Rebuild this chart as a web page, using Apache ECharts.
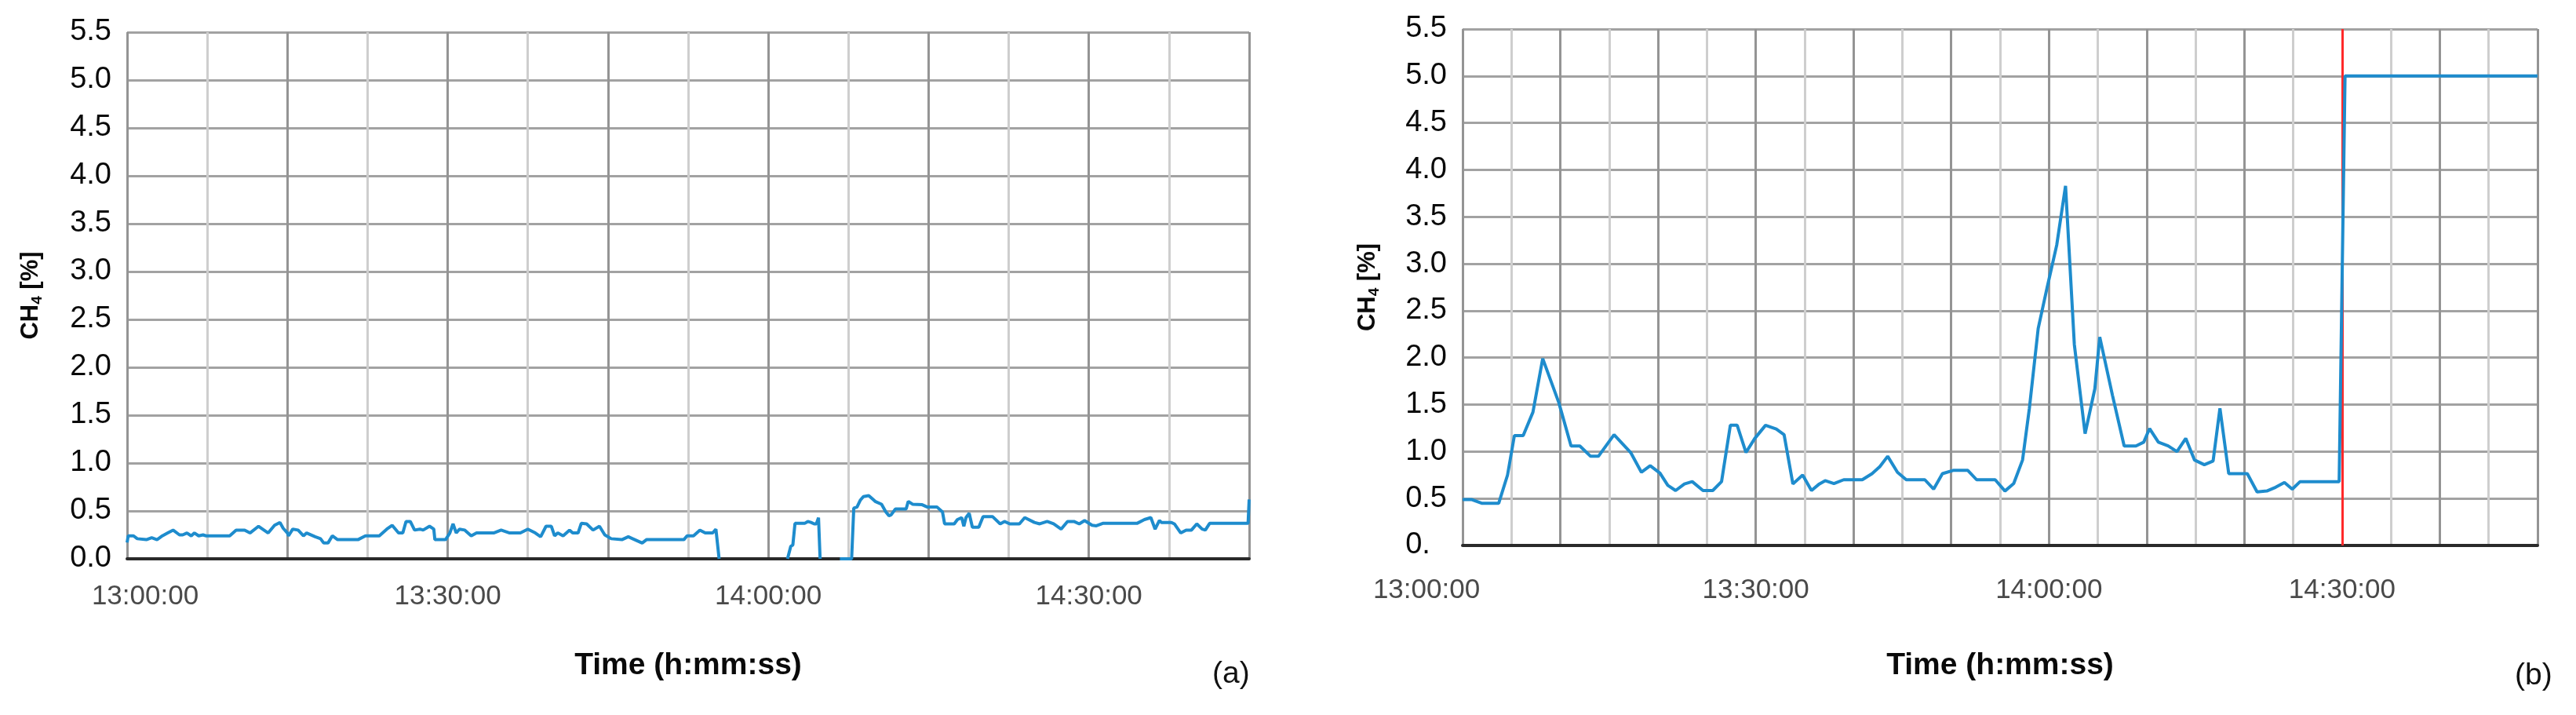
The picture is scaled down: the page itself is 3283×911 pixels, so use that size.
<!DOCTYPE html>
<html>
<head>
<meta charset="utf-8">
<script src="https://cdn.jsdelivr.net/npm/echarts@6/dist/echarts.min.js"></script>
<style>
html,body{margin:0;padding:0;background:#fff;}
#c{width:3283px;height:911px;}
</style>
</head>
<body>
<div id="c"></div>
<script>
// ---- Data (time in minutes after 13:00:00, CH4 in %) ----
// Panel (a)
const timeA = [0,0.1,0.6,0.95,1.8,2.3,2.8,3.3,3.8,4.3,4.9,5.2,5.6,6.0,6.3,6.7,7.1,7.4,9.6,10.2,11.0,11.5,12.3,13.2,13.8,14.3,14.6,15.0,15.1,15.5,16.0,16.5,16.8,17.6,18.1,18.4,18.8,19.2,19.7,21.6,22.3,23.6,24.3,24.8,25.4,25.8,26.1,26.5,26.9,27.4,27.7,28.3,28.7,28.8,29.8,30.2,30.5,30.8,31.1,31.6,32.2,32.7,34.3,35.0,35.8,36.8,37.5,38.2,38.7,39.2,39.7,40.0,40.3,40.8,41.4,41.7,42.2,42.5,43.0,43.6,44.2,44.7,45.3,46.3,46.9,47.3,48.2,48.6,52.1,52.4,53.0,53.6,54.1,54.8,55.1,55.4,58.5,61.8,62.1,62.3,62.5,63.4,63.7,64.0,64.3,64.5,64.7,64.85,65.8,66.7,67.8,68.0,68.3,68.6,68.9,69.4,69.8,70.0,70.6,71.0,71.3,71.5,71.9,72.9,73.1,73.5,74.4,74.9,75.8,76.3,76.5,77.4,77.7,78.1,78.3,78.5,78.8,79.1,79.7,80.1,81.0,81.7,82.1,82.6,83.5,84.0,84.9,85.4,86.1,86.7,87.4,88.0,88.6,89.1,89.6,90.3,90.7,91.3,94.5,95.2,95.8,96.2,96.6,96.8,97.7,98.0,98.6,99.1,99.6,100.1,100.6,100.9,101.3,104.9,105];
const ch4A = [0.17,0.24,0.24,0.21,0.20,0.22,0.20,0.24,0.27,0.30,0.25,0.25,0.27,0.24,0.27,0.24,0.25,0.24,0.24,0.30,0.30,0.27,0.34,0.27,0.35,0.38,0.32,0.27,0.24,0.31,0.30,0.24,0.27,0.23,0.21,0.165,0.165,0.24,0.20,0.20,0.24,0.24,0.31,0.35,0.27,0.27,0.39,0.39,0.30,0.31,0.30,0.34,0.31,0.20,0.20,0.27,0.365,0.27,0.31,0.30,0.24,0.27,0.27,0.30,0.27,0.27,0.31,0.27,0.23,0.34,0.34,0.24,0.27,0.24,0.30,0.27,0.27,0.37,0.365,0.30,0.34,0.25,0.21,0.20,0.23,0.21,0.165,0.20,0.20,0.24,0.24,0.30,0.27,0.27,0.31,0,null,0,0.13,0.145,0.37,0.37,0.39,0.38,0.365,0.365,0.43,0,null,0,0,0.53,0.54,0.61,0.65,0.66,0.62,0.60,0.57,0.49,0.45,0.46,0.52,0.52,0.60,0.57,0.565,0.54,0.54,0.49,0.365,0.365,0.41,0.43,0.34,0.43,0.475,0.33,0.33,0.44,0.44,0.365,0.39,0.365,0.365,0.43,0.38,0.365,0.39,0.365,0.31,0.39,0.39,0.365,0.40,0.35,0.345,0.37,0.37,0.41,0.43,0.31,0.40,0.38,0.38,0.365,0.27,0.30,0.30,0.365,0.31,0.30,0.37,0.37,0.62];
// Panel (b)
const timeB = [0,0.9,1.95,3.7,4.6,5.3,6.2,7.2,8.2,9.85,11.1,12.0,13.1,13.9,15.5,17.2,18.3,19.2,20.2,21.0,21.8,22.7,23.5,24.6,25.6,26.5,27.4,28.1,29.0,29.9,31.0,32.1,32.9,33.8,34.8,35.7,36.5,37.1,38.0,39.0,40.9,41.9,42.7,43.5,44.5,45.4,47.3,48.2,49.1,50.2,51.7,52.6,54.5,55.5,56.4,57.3,58.0,58.9,59.8,60.8,61.7,62.6,63.7,64.7,65.2,66.5,67.7,68.9,69.7,70.3,71.2,72.2,73.1,74.0,74.9,75.9,76.8,77.5,78.4,80.3,81.3,82.3,83.2,84.1,84.9,85.7,89.7,90.3,110];
const ch4B = [0.49,0.49,0.45,0.45,0.75,1.17,1.17,1.42,1.99,1.52,1.06,1.06,0.95,0.95,1.18,0.99,0.78,0.85,0.77,0.64,0.585,0.655,0.68,0.585,0.585,0.68,1.28,1.28,0.99,1.14,1.28,1.24,1.18,0.655,0.75,0.585,0.655,0.69,0.66,0.70,0.70,0.765,0.84,0.95,0.78,0.70,0.70,0.60,0.765,0.80,0.80,0.70,0.70,0.58,0.66,0.91,1.46,2.31,2.74,3.20,3.83,2.14,1.19,1.67,2.22,1.60,1.06,1.06,1.10,1.245,1.10,1.06,1.00,1.14,0.91,0.86,0.90,1.46,0.765,0.765,0.57,0.58,0.62,0.67,0.60,0.68,0.68,5.0,5.0];
const alarmTimeB = 90; // 14:30:00
const xTickLabels = ['13:00:00','13:30:00','14:00:00','14:30:00'];
const yTicks = [0,0.5,1,1.5,2,2.5,3,3.5,4,4.5,5,5.5];

const FONT = '"Liberation Sans", Arial, Helvetica, sans-serif';
const BLUE = '#1e8ccd';

function pairs(t, v){ return t.map((x,i)=>[x, v[i]]); }

function xLabel(v, firstPad){
  if (v % 30 !== 0) return '';
  const s = xTickLabels[v/30];
  if (s === undefined) return '';
  if (v === 0 && firstPad) return '{' + firstPad + '|' + s + '}';
  return s;
}

function makeX(gi, max, major, margin, nameGap, firstPad){
  return {
    type:'value', gridIndex:gi, min:0, max:max, interval:major,
    axisLine:{show:true, onZero:false, lineStyle:{color:'#2a2a2a', width:4}},
    axisTick:{show:false},
    minorTick:{show:false, splitNumber:2},
    splitLine:{show:true, lineStyle:{color:'#949494', width:3}},
    minorSplitLine:{show:true, lineStyle:{color:'#cecece', width:3}},
    axisLabel:{
      fontSize:35, color:'#4a4a4a', fontFamily:FONT, margin:margin,
      formatter:(v)=>xLabel(v, firstPad),
      rich:{
        l:{fontSize:35, color:'#4a4a4a', fontFamily:FONT, padding:[0,92,0,0]},
        r:{fontSize:35, color:'#4a4a4a', fontFamily:FONT, padding:[0,0,0,46]}
      }
    },
    name:'Time (h:mm:ss)', nameLocation:'middle', nameGap:nameGap,
    nameTextStyle:{fontSize:39, fontWeight:'bold', color:'#0a0a0a', fontFamily:FONT}
  };
}

function makeY(gi, zeroLabel, nameGap){
  return {
    type:'value', gridIndex:gi, min:yTicks[0], max:yTicks[yTicks.length-1], interval:0.5,
    axisLine:{show:false}, axisTick:{show:false},
    splitLine:{show:true, lineStyle:{color:'#a2a2a2', width:3}},
    axisLabel:{fontSize:38, color:'#0a0a0a', fontFamily:FONT, margin:20,
      formatter:(v)=> v===0 ? zeroLabel : v.toFixed(1)},
    name:'{b|CH}{s|4}{b| [%]}', nameLocation:'middle', nameRotate:90, nameGap:nameGap,
    nameTextStyle:{
      rich:{
        b:{fontSize:31, fontWeight:'bold', color:'#0a0a0a', fontFamily:FONT, lineHeight:36},
        s:{fontSize:19, fontWeight:'bold', color:'#0a0a0a', fontFamily:FONT, lineHeight:36, verticalAlign:'bottom', padding:[10,0,0,0]}
      }
    }
  };
}

const chart = echarts.init(document.getElementById('c'), null, {renderer:'canvas'});
chart.setOption({
  backgroundColor:'#fff',
  animation:false,
  grid:[
    {left:162, top:41, width:1430, height:671},
    {left:1864, top:37, width:1370, height:658}
  ],
  xAxis:[
    makeX(0, 105, 15, 31, 117, 'r'),
    makeX(1, 110, 10, 40, 134, 'l')
  ],
  yAxis:[
    makeY(0, '0.0', 105),
    makeY(1, '0.\u2007', 103)
  ],
  graphic:[
    {type:'text', left:1545, top:840, style:{text:'(a)', fontSize:39, fill:'#111', fontFamily:FONT}},
    {type:'text', left:3205, top:842, style:{text:'(b)', fontSize:39, fill:'#111', fontFamily:FONT}}
  ],
  series:[
    {type:'line', xAxisIndex:0, yAxisIndex:0, data:pairs(timeA, ch4A), showSymbol:false,
     connectNulls:false, lineStyle:{color:BLUE, width:4}, itemStyle:{color:BLUE}, z:5},
    {type:'line', xAxisIndex:1, yAxisIndex:1, data:pairs(timeB, ch4B), showSymbol:false,
     lineStyle:{color:BLUE, width:4}, itemStyle:{color:BLUE}, z:5,
     markLine:{silent:true, symbol:['none','none'], label:{show:false},
       lineStyle:{color:'#ff2a2a', width:3, type:'solid'},
       data:[{xAxis:alarmTimeB}]}}
  ]
});
</script>
</body>
</html>
